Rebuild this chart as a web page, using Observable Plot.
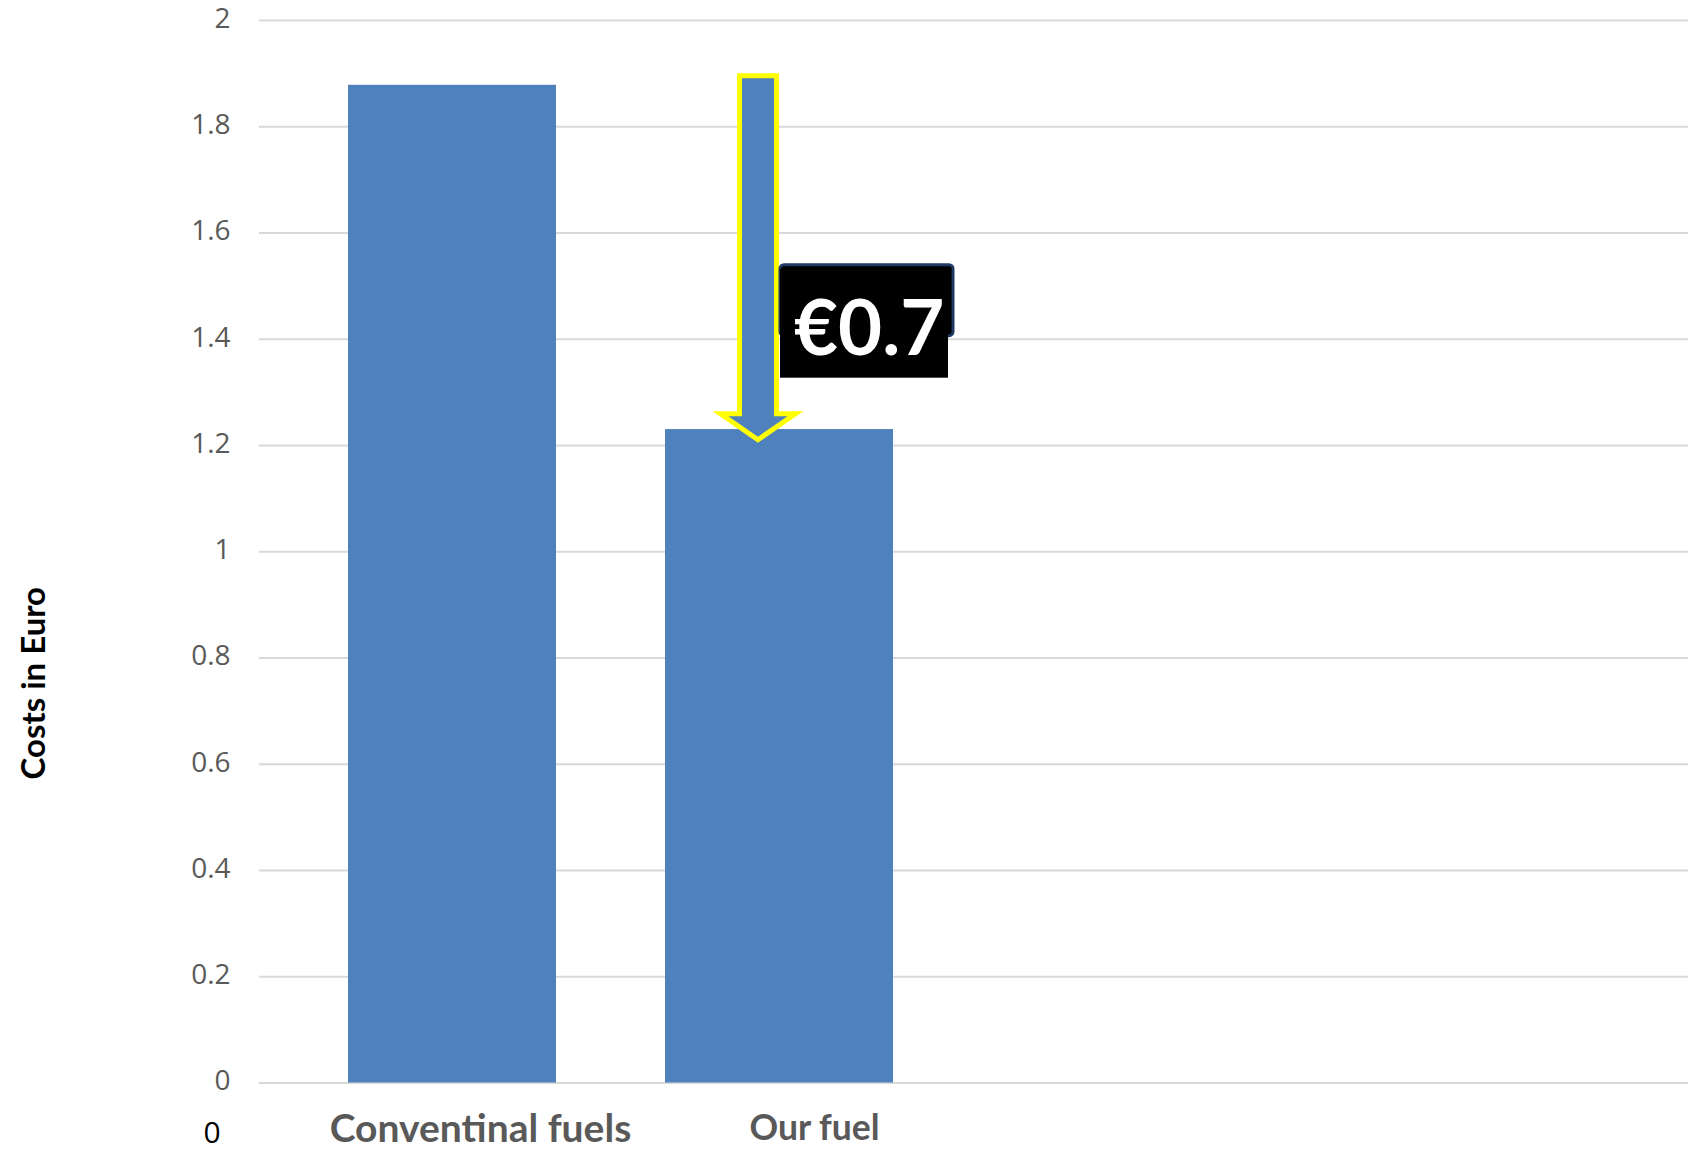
<!DOCTYPE html>
<html><head><meta charset="utf-8">
<script src="https://cdn.jsdelivr.net/npm/d3@7"></script>
<script src="https://cdn.jsdelivr.net/npm/@observablehq/plot@0.6"></script>
<style>html,body{margin:0;padding:0;background:#fff;} svg{display:block}</style>
</head><body><div id="chart"></div>
<script>
// ---- data ----
const categories = ["Conventinal fuels", "Our fuel"];
const costs = [1.878, 1.23];
const yTicks = [0, 0.2, 0.4, 0.6, 0.8, 1, 1.2, 1.4, 1.6, 1.8, 2];
const yLabel = "Costs in Euro";
const savingLabel = "€0.7";
const savingFrom = 1.895;   // arrow starts here (value)
const savingTo = 1.21;      // arrow tip (value)
const savingLabelAt = 1.37; // baseline of the saving label (value)
const strayLabel = "0";

(function () {
const data = categories.map((c, i) => ({category: c, cost: costs[i]}));

const BLUE = "#4f81bd", GREY = "#595959";
const W = 1688, H = 1150;

const chart = Plot.plot({
  width: W, height: H,
  marginLeft: 259, marginRight: 0, marginTop: 20, marginBottom: 67.5,
  style: {fontFamily: "'Open Sans', sans-serif", background: "#fff", overflow: "visible"},
  x: {domain: categories, range: [348, 893], paddingInner: 0.281, paddingOuter: 0, align: 0.5},
  y: {domain: [0, 2]},
  marks: [
    Plot.ruleY(yTicks, {stroke: "#d9d9d9", strokeWidth: 2}),
    Plot.barY(data.filter(d => d.category === categories[0]), {x: "category", y: "cost", fill: BLUE, insetLeft: 0, insetRight: 20}),
    Plot.barY(data.filter(d => d.category === categories[1]), {x: "category", y: "cost", fill: BLUE, insetLeft: 0, insetRight: 0}),
    Plot.axisY({ticks: yTicks, tickSize: 0, tickPadding: 29, tickFormat: d => String(d),
      fontSize: 28, fill: GREY, label: null, dy: -1.5}),
    Plot.axisX({ticks: [categories[0]], tickSize: 0, tickPadding: 31, fontSize: 39,
      fontWeight: "bold", fontFamily: "Lato", fill: GREY, label: null, dx: 18}),
    Plot.axisX({ticks: [categories[1]], tickSize: 0, tickPadding: 32, fontSize: 35.5,
      fontWeight: "bold", fontFamily: "Lato", fill: GREY, label: null, dx: 35})
  ]
});
document.getElementById("chart").appendChild(chart);

// ---- annotations positioned through Plot's own scales ----
const svg = d3.select(chart);
const xs = chart.scale("x"), ys = chart.scale("y");
const cx = xs.apply(categories[1]) + 93;
const yTop = ys.apply(savingFrom), yTip = ys.apply(savingTo);
const sh = 18.5, hh = 37.5, hl = 26;
const shoulder = yTip - hl;
const g = svg.append("g");
g.append("path")
  .attr("d", `M${cx - sh},${yTop}L${cx + sh},${yTop}L${cx + sh},${shoulder}L${cx + hh},${shoulder}L${cx},${yTip}L${cx - hh},${shoulder}L${cx - sh},${shoulder}Z`)
  .attr("fill", BLUE).attr("stroke", "#ffff00").attr("stroke-width", 5).attr("stroke-linejoin", "miter");

const base = ys.apply(savingLabelAt);
g.append("rect").attr("x", cx + 22).attr("y", base - 90).attr("width", 173).attr("height", 71)
  .attr("rx", 4).attr("fill", "#000").attr("stroke", "#1f3864").attr("stroke-width", 3);
g.append("rect").attr("x", cx + 22).attr("y", base - 86).attr("width", 168).attr("height", 109)
  .attr("fill", "#000");
g.append("text").attr("x", cx + 36).attr("y", base)
  .attr("text-anchor", "start")
  .attr("font-family", "Lato").attr("font-weight", "bold").attr("font-size", 76)
  .attr("fill", "#fff").text(savingLabel);

// y axis title
svg.append("text")
  .attr("transform", `translate(45,${ys.apply(1) + 132}) rotate(-90)`)
  .attr("text-anchor", "middle").attr("font-family", "Lato").attr("font-weight", "bold")
  .attr("font-size", 33).attr("fill", "#000").text(yLabel);

// stray "0" at the bottom left
svg.append("text")
  .attr("x", 212).attr("y", ys.apply(0) + 60.5)
  .attr("text-anchor", "middle").attr("font-family", "'Open Sans'")
  .attr("font-size", 30).attr("fill", "#000").text(strayLabel);
})();
</script>
</body></html>
